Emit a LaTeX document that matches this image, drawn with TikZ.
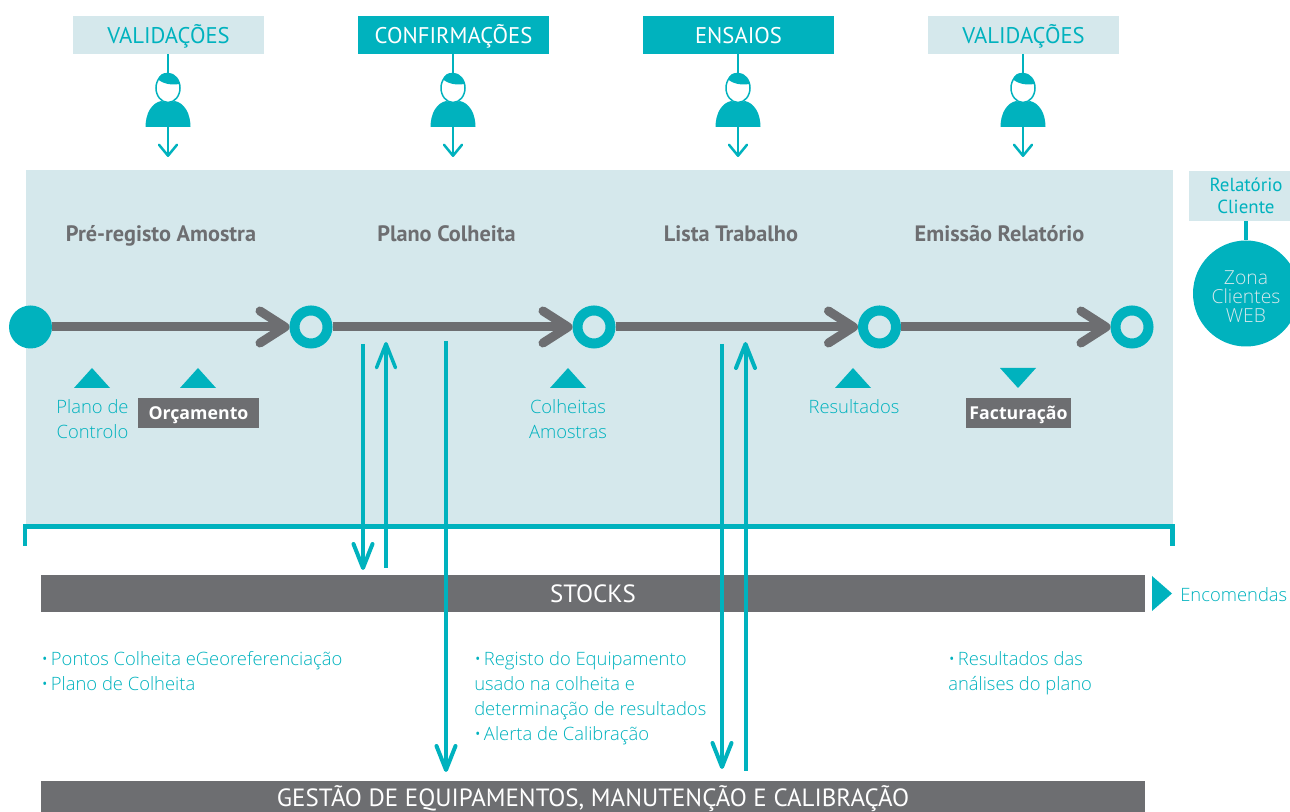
\documentclass[tikz,border=0pt]{standalone}
\usepackage{fontspec}
\setmainfont{Open Sans}
\newfontfamily\din{PT Sans}
\newfontfamily\thin{Open Sans Light}
\usetikzlibrary{arrows.meta}
\definecolor{teal}{HTML}{00B2BE}
\definecolor{pale}{HTML}{D5E8EC}
\definecolor{slate}{HTML}{6D6E71}
\tikzset{
  x=0.75pt,y=-0.75pt,
  px/.style={line width=#1*0.75pt},
  lightbox/.style={fill=pale,inner sep=0,text=teal,font=\din\fontsize{17}{19}\selectfont,text height=13.1pt,text depth=0pt},
  darkbox/.style={fill=teal,inner sep=0,text=white,font=\din\fontsize{17}{19}\selectfont,text height=13.1pt,text depth=0pt},
  stage/.style={text=slate,font=\din\bfseries\fontsize{16.7}{18}\selectfont,inner sep=0,anchor=base},
  note/.style={text=teal,font=\thin\fontsize{13.8}{18.75}\selectfont,inner sep=0,align=left},
  center note/.style={note,align=center},
  tagbox/.style={fill=slate,text=white,font=\bfseries\fontsize{13.3}{16}\selectfont,inner sep=0,text height=9.5pt,text depth=0pt},
  barbox/.style={fill=slate,text=white,font=\din\fontsize{18.7}{19}\selectfont,inner sep=0,text height=12.8pt,text depth=0pt},
  startdot/.style={circle,fill=teal,minimum size=43*0.75pt,inner sep=0},
  ring/.style={circle,draw=teal,px=10,minimum size=33*0.75pt,inner sep=0,fill=pale},
  flow/.style={draw=slate,px=9,-{Straight Barb[length=25*0.75pt,width=32*0.75pt,line width=9*0.75pt,round]}},
  thinarrow/.style={draw=teal,px=2.5,-{Straight Barb[length=11*0.75pt,width=18*0.75pt,round]}},
  longarrow/.style={draw=teal,px=4,-{Straight Barb[length=24*0.75pt,width=19*0.75pt,round]}},
  tri/.style={fill=teal,draw=none},
}
\newcommand{\person}[1]{%
  \begin{scope}[shift={(#1,0)}]
    \fill[teal] (-22.5,127) .. controls (-22.5,113) and (-16,103) .. (-7,101)
       .. controls (-4,103) and (4,103) .. (7,101)
       .. controls (16,103) and (22.5,113) .. (22.5,127) -- cycle;
    \draw[teal,px=1.5,fill=white] (0,88) ellipse [x radius=12,y radius=14.5];
    \fill[teal] (-10,79.5) .. controls (-8,70) and (8,70) .. (11.6,84)
       .. controls (6,85) and (-3,85) .. (-10,79.5) -- cycle;
  \end{scope}}
\newcommand{\bul}{•\hspace{-1.5pt} }
\begin{document}
\begin{tikzpicture}
\useasboundingbox (0,0) rectangle (1290,812);
\clip (0,0) rectangle (1290,812);
% panel
\fill[pale] (26,170) rectangle (1173,527);
% top boxes
\node[lightbox,minimum width=191*0.75pt,minimum height=38*0.75pt] (v1) at (168.5,35) {VALIDAÇÕES};
\node[darkbox,minimum width=191*0.75pt,minimum height=38*0.75pt] (c1) at (453.5,35) {CONFIRMAÇÕES};
\node[darkbox,minimum width=191*0.75pt,minimum height=38*0.75pt] (e1) at (738.5,35) {ENSAIOS};
\node[lightbox,minimum width=191*0.75pt,minimum height=38*0.75pt] (v2) at (1023.5,35) {VALIDAÇÕES};
\foreach \n/\x in {a/168,b/453,c/738,d/1023}{
  \coordinate (\n h) at (\x,74);
  \coordinate (\n b) at (\x,120);
  \coordinate (\n e) at (\x,157);
}
\draw[teal,px=2.5] (v1.south -| ah) -- (ah);
\draw[teal,px=2.5] (c1.south -| bh) -- (bh);
\draw[teal,px=2.5] (e1.south -| ch) -- (ch);
\draw[teal,px=2.5] (v2.south -| dh) -- (dh);
\draw[thinarrow] (ab) -- (ae);
\draw[thinarrow] (bb) -- (be);
\draw[thinarrow] (cb) -- (ce);
\draw[thinarrow] (db) -- (de);
\person{168}\person{453}\person{738}\person{1023}
% stage titles
\node[stage] (s1) at (161,242) {Pré-registo Amostra};
\node[stage] (s2) at (446.5,242) {Plano Colheita};
\node[stage] (s3) at (731,242) {Lista Trabalho};
\node[stage] (s4) at (999.5,242) {Emissão Relatório};
% flow
\node[startdot] (n0) at (30.5,327) {};
\node[ring] (n1) at (311,327) {};
\node[ring] (n2) at (594,327) {};
\node[ring] (n3) at (879.5,327) {};
\node[ring] (n4) at (1132,327) {};
\draw[flow] (n0.east) -- (n1.west);
\draw[flow] (n1.east) -- (n2.west);
\draw[flow] (n2.east) -- (n3.west);
\draw[flow] (n3.east) -- (n4.west);
% triangles and labels
\fill[tri] (74,388) -- (92,368) -- (110,388) -- cycle;
\fill[tri] (180,388) -- (198,368) -- (216,388) -- cycle;
\fill[tri] (550,388) -- (568,368) -- (586,388) -- cycle;
\fill[tri] (835,388) -- (853,368) -- (871,388) -- cycle;
\fill[tri] (1000,368) -- (1036,368) -- (1018,388) -- cycle;
\node[center note] (pc) at (92.5,419) {Plano de\\Controlo};
\node[tagbox,minimum width=121*0.75pt,minimum height=30*0.75pt] (orc) at (198.5,413) {Orçamento};
\node[center note] (ca) at (568,419) {Colheitas\\Amostras};
\node[center note] (re) at (854,406.5) {Resultados};
\node[tagbox,minimum width=105*0.75pt,minimum height=30*0.75pt] (fa) at (1018.5,413) {Facturação};
% client zone
\node[fill=pale,minimum width=114*0.75pt,minimum height=50*0.75pt,inner sep=0,text=teal,align=center,font=\din\fontsize{14.2}{16.5}\selectfont] (rc) at (1246,196) {Relatório\\Cliente};
\node[circle,fill=teal,minimum size=106*0.75pt,inner sep=0,label={[text=pale,align=center,font=\thin\fontsize{14.5}{14.2}\selectfont,yshift=-2.25pt]center:Zona\\Clientes\\WEB}] (zc) at (1246,293.5) {};
\draw[teal,px=3.5] (rc.south -| zc) -- (zc.north);
% bars
\node[barbox,minimum width=1104*0.75pt,minimum height=37*0.75pt] (st) at (593,593.5) {STOCKS};
\node[barbox,minimum width=1104*0.75pt,minimum height=34*0.75pt] (ge) at (593,798) {GESTÃO DE EQUIPAMENTOS, MANUTENÇÃO E CALIBRAÇÃO};
% bracket
\draw[teal,px=4.5] (25,546) -- (25,526.5) -- (1172.5,526.5) -- (1172.5,546);
% vertical arrows
\coordinate (u1) at (363,344); \coordinate (u2) at (363,570);
\coordinate (w1) at (386,568); \coordinate (w2) at (386,342);
\coordinate (x1) at (446,341); \coordinate (x2) at (446,772);
\coordinate (y1) at (722,344); \coordinate (y2) at (722,769);
\coordinate (z1) at (745.5,771); \coordinate (z2) at (745.5,342);
\draw[longarrow] (u1) -- (u2);
\draw[longarrow,px=3.5] (w1) -- (w2);
\draw[longarrow] (x1) -- (x2);
\draw[longarrow] (y1) -- (y2);
\draw[longarrow] (z1) -- (z2);
% encomendas
\fill[teal] (1152,576) -- (1172,593.5) -- (1152,611) -- cycle;
\node[note,anchor=west] (en) at (1180,594.5) {Encomendas};
% notes
\node[note,anchor=north west] (t1) at (41,651.5) {\bul Pontos Colheita eGeoreferenciação\\\bul Plano de Colheita};
\node[note,anchor=north west] (t2) at (474,651.5) {\bul Registo do Equipamento\\usado na colheita e\\determinação de resultados\\\bul Alerta de Calibração};
\node[note,anchor=north west] (t3) at (948,651.5) {\bul Resultados das\\análises do plano};
\end{tikzpicture}
\end{document}
